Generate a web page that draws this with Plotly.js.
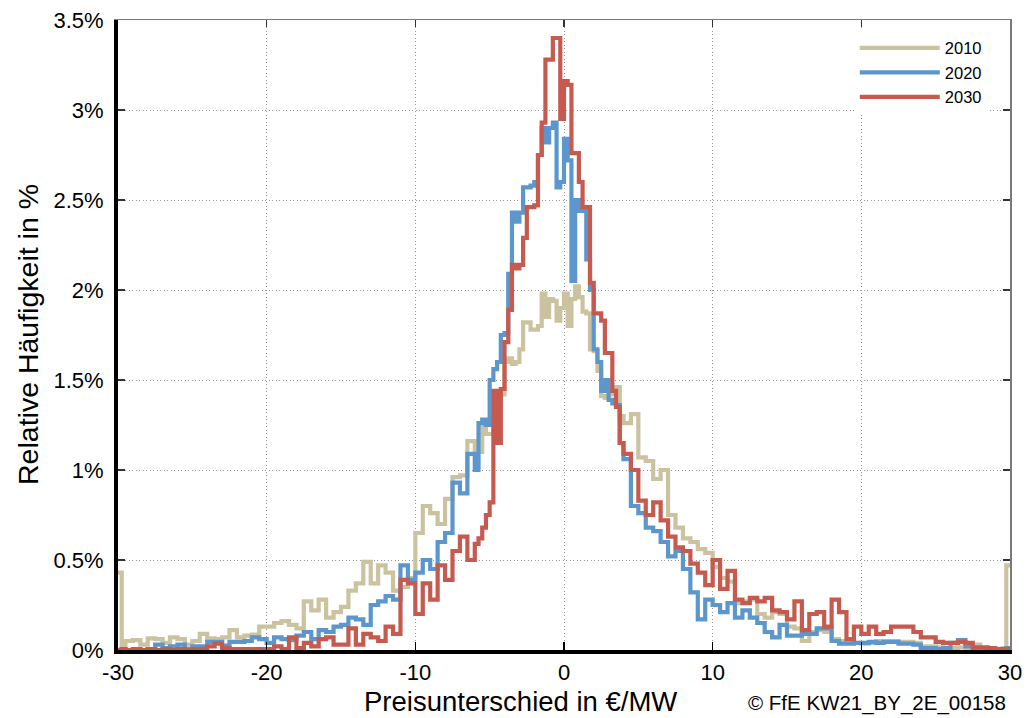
<!DOCTYPE html>
<html>
<head>
<meta charset="utf-8">
<script src="https://cdn.plot.ly/plotly-3.0.1.min.js"></script>
<style>
  html, body { margin: 0; padding: 0; background: #ffffff; }
  #chart { width: 1027px; height: 718px; }
</style>
</head>
<body>
<div id="chart"></div>
<script>
// Left edges of the histogram bins (€/MW)
const binEdges = [
  -30, -29.75, -29.5, -29, -28.5, -28, -27.5, -27, -26.5, -26, -25.5, -25, -24.5, -24, -23.5, -23,
  -22.5, -22, -21.5, -21, -20.5, -20, -19.5, -19, -18.5, -18, -17.5, -17, -16.5, -16, -15.5, -15,
  -14.5, -14, -13.5, -13, -12.5, -12, -11.5, -11, -10.5, -10, -9.5, -9, -8.5, -8, -7.5, -7, -6.5, -6,
  -5.75, -5.5, -5.25, -5, -4.75, -4.5, -4.25, -4, -3.75, -3.5, -3.25, -3, -2.75, -2.5, -2.25, -2,
  -1.75, -1.5, -1.25, -1, -0.75, -0.5, -0.25, 0, 0.25, 0.5, 0.75, 1, 1.25, 1.5, 1.75, 2, 2.25, 2.5,
  2.75, 3, 3.25, 3.5, 3.75,
  4, 4.5, 5, 5.5, 6, 6.5, 7, 7.5, 8, 8.5, 9, 9.5, 10, 10.5, 11, 11.5, 12, 12.5, 13, 13.5, 14, 14.5,
  15, 15.5, 16, 16.5, 17, 17.5, 18, 18.5, 19, 19.5, 20, 20.5, 21, 21.5, 22, 22.5, 23, 23.5, 24, 24.5,
  25, 25.5, 26, 26.5, 27, 27.5, 28, 28.5, 29, 29.5, 29.75, 30
];

// Relative frequency in %
const freq2010 = [
  0.43, 0.02, 0.05, 0.055, 0.03, 0.065, 0.06, 0.04, 0.07, 0.06, 0.03, 0.05, 0.09, 0.065, 0.06, 0.07,
  0.11, 0.07, 0.08, 0.085, 0.13, 0.13, 0.15, 0.16, 0.14, 0.12, 0.27, 0.22, 0.28, 0.18, 0.21, 0.24,
  0.33, 0.37, 0.49, 0.37, 0.47, 0.43, 0.33, 0.35, 0.4, 0.65, 0.8, 0.76, 0.7, 0.84, 0.96, 0.97, 1.16, 1.1,
  1.1, 1.24, 1.2, 1.2, 1.3, 1.38, 1.42, 1.6, 1.62, 1.59, 1.6, 1.67, 1.82, 1.82, 1.78, 1.78,
  1.8, 1.98, 1.85, 1.95, 1.94, 1.83, 1.9, 1.98, 1.8, 1.95, 2.02, 1.96, 1.88, 1.87, 1.67, 1.66, 1.55, 1.41,
  1.4, 1.42, 1.45, 1.46, 1.3,
  1.26, 1.31, 1.07, 1.05, 0.95, 1.0, 0.75, 0.68, 0.62, 0.6, 0.56, 0.54, 0.46, 0.4, 0.38, 0.26, 0.27, 0.28, 0.2, 0.18, 0.21, 0.2,
  0.13, 0.12, 0.05, 0.1, 0.11, 0.1, 0.06, 0.05, 0.04, 0.04, 0.035, 0.04, 0.05, 0.05, 0.05, 0.045, 0.045, 0.04, 0.02, 0.02,
  0.015, 0.01, 0.01, 0.015, 0.01, 0.03, 0.01, 0.01, 0.005, 0.01, 0.47, 0.47
];

const freq2020 = [
  0.0, 0.005, 0.0, 0.005, 0.0, 0.005, 0.03, 0.01, 0.02, 0.03, 0.005, 0.02, 0.02, 0.045, 0.045, 0.025,
  0.045, 0.045, 0.05, 0.07, 0.06, 0.04, 0.07, 0.06, 0.055, 0.08, 0.1, 0.06, 0.11, 0.1, 0.13, 0.14,
  0.18, 0.17, 0.14, 0.25, 0.27, 0.3, 0.28, 0.47, 0.39, 0.43, 0.5, 0.45, 0.6, 0.65, 0.93, 0.87, 1.09, 1.0,
  1.26, 1.28, 1.25, 1.5, 1.56, 1.6, 1.75, 1.76, 2.09, 2.43, 2.38, 2.43, 2.57, 2.57, 2.58, 2.6,
  2.75, 2.9, 2.82, 2.9, 2.93, 2.57, 2.6, 2.84, 2.72, 2.05, 2.5, 2.44, 2.44, 2.17, 2.0, 1.67, 1.6, 1.44,
  1.5, 1.39, 1.37, 1.36, 1.15,
  1.06, 0.8, 0.76, 0.68, 0.66, 0.6, 0.52, 0.55, 0.45, 0.32, 0.17, 0.28, 0.25, 0.21, 0.26, 0.18, 0.22, 0.18, 0.15, 0.1, 0.07, 0.14,
  0.08, 0.08, 0.09, 0.09, 0.12, 0.12, 0.05, 0.035, 0.035, 0.04, 0.04, 0.045, 0.04, 0.045, 0.045, 0.035, 0.035, 0.03, 0.01, 0.01,
  0.005, 0.01, 0.04, 0.055, 0.02, 0.005, 0.005, 0.005, 0.005, 0.005, 0.01, 0.01
];

const freq2030 = [
  0.0, 0.005, 0.0, 0.005, 0.0, 0.005, 0.0, 0.005, 0.0, 0.005, 0.0, 0.005, 0.005, 0.02, 0.035, 0.01,
  0.005, 0.005, 0.005, 0.005, 0.005, 0.005, 0.02, 0.005, 0.07, 0.01, 0.04, 0.02, 0.06, 0.07, 0.03, 0.03,
  0.12, 0.03, 0.09, 0.07, 0.05, 0.13, 0.09, 0.39, 0.37, 0.2, 0.37, 0.28, 0.47, 0.39, 0.55, 0.63, 0.5, 0.59,
  0.62, 0.68, 0.75, 0.82, 1.44, 1.15, 1.45, 1.71, 1.89, 2.14, 2.12, 2.14, 2.29, 2.46, 2.46, 2.47,
  2.75, 2.93, 3.28, 3.28, 3.4, 3.4, 2.95, 3.16, 3.14, 2.76, 2.76, 2.6, 2.46, 2.46, 2.04, 1.87, 1.87, 1.83,
  1.65, 1.65, 1.44, 1.35, 1.15,
  1.09, 1.0, 0.83, 0.75, 0.82, 0.72, 0.63, 0.57, 0.55, 0.48, 0.43, 0.36, 0.5, 0.34, 0.44, 0.28, 0.26, 0.29, 0.27, 0.29, 0.22, 0.21,
  0.17, 0.27, 0.11, 0.2, 0.21, 0.13, 0.28, 0.21, 0.06, 0.13, 0.09, 0.13, 0.09, 0.1, 0.13, 0.13, 0.13, 0.1, 0.07, 0.07,
  0.045, 0.04, 0.04, 0.045, 0.04, 0.015, 0.015, 0.01, 0.005, 0.005, 0.005, 0.005
];

const seriesNames = ['2010', '2020', '2030'];
const seriesColors = ['#CBC3A0', '#5B97CC', '#C75A4F'];
const seriesValues = [freq2010, freq2020, freq2030];

const xTickVals = [-30, -20, -10, 0, 10, 20, 30];
const xTickText = ['-30', '-20', '-10', '0', '10', '20', '30'];
const yTickVals = [0, 0.5, 1, 1.5, 2, 2.5, 3, 3.5];
const yTickText = ['0%', '0.5%', '1%', '1.5%', '2%', '2.5%', '3%', '3.5%'];

const traces = seriesNames.map((name, i) => ({
  type: 'scatter',
  mode: 'lines',
  name: name,
  x: binEdges,
  y: seriesValues[i],
  line: { shape: 'hv', color: seriesColors[i], width: 4.2 },
  hoverinfo: 'x+y+name'
}));

// empty trace to create the mirrored (top/right) frame axes
traces.push({ type: 'scatter', x: [], y: [], xaxis: 'x2', yaxis: 'y2', showlegend: false, hoverinfo: 'skip' });

const FONT = 'Liberation Sans, Arial, sans-serif';
const GRID_DASH = '1px,2.5px';

const layout = {
  width: 1027,
  height: 718,
  margin: { l: 118, r: 17, t: 20, b: 68 },
  paper_bgcolor: '#ffffff',
  plot_bgcolor: '#ffffff',
  font: { family: FONT, color: '#000000', size: 20 },
  showlegend: true,
  legend: {
    x: 0.826, y: 0.983, xanchor: 'left', yanchor: 'top',
    bgcolor: '#ffffff', borderwidth: 0,
    font: { family: FONT, size: 16.5, color: '#000000' },
    itemwidth: 80, tracegroupgap: 0
  },
  xaxis: {
    range: [-30, 30],
    tickvals: xTickVals,
    ticktext: xTickText,
    ticks: 'inside', ticklen: 8, tickwidth: 1.5, tickcolor: '#000000',
    showline: true, linecolor: '#000000', linewidth: 4,
    showgrid: true, gridcolor: '#999999', griddash: GRID_DASH, gridwidth: 1,
    zeroline: false,
    tickfont: { family: FONT, size: 22, color: '#000000' },
    fixedrange: true
  },
  yaxis: {
    range: [0, 3.5],
    tickvals: yTickVals,
    ticktext: yTickText,
    ticks: 'inside', ticklen: 7, tickwidth: 1.5, tickcolor: '#333333',
    showline: true, linecolor: '#000000', linewidth: 4,
    showgrid: true, gridcolor: '#999999', griddash: GRID_DASH, gridwidth: 1,
    zeroline: false,
    tickfont: { family: FONT, size: 22, color: '#000000' },
    ticklabelstandoff: 6,
    fixedrange: true
  },
  xaxis2: {
    overlaying: 'x', side: 'top', anchor: 'y2', range: [-30, 30], tickvals: xTickVals,
    ticks: 'inside', ticklen: 7, tickwidth: 1.5, tickcolor: '#333333',
    showticklabels: false, showgrid: false, zeroline: false,
    showline: true, linecolor: '#7a7a7a', linewidth: 1.5, fixedrange: true
  },
  yaxis2: {
    overlaying: 'y', side: 'right', anchor: 'x2', range: [0, 3.5], tickvals: yTickVals,
    ticks: 'inside', ticklen: 7, tickwidth: 1.5, tickcolor: '#333333',
    showticklabels: false, showgrid: false, zeroline: false,
    showline: true, linecolor: '#7a7a7a', linewidth: 1.5, fixedrange: true
  },
  annotations: [
    {
      text: 'Preisunterschied in €/MW',
      xref: 'paper', yref: 'paper', x: 0.4507, y: -0.082,
      xanchor: 'center', yanchor: 'middle', showarrow: false,
      font: { family: FONT, size: 27.5, color: '#000000' }
    },
    {
      text: '© FfE KW21_BY_2E_00158',
      xref: 'paper', yref: 'paper', x: 0.9978, y: -0.084,
      xanchor: 'right', yanchor: 'middle', showarrow: false,
      font: { family: FONT, size: 20.5, color: '#000000' }
    },
    {
      text: 'Relative Häufigkeit in %',
      xref: 'paper', yref: 'paper', x: -0.1009, y: 0.5016,
      xanchor: 'center', yanchor: 'middle', showarrow: false, textangle: -90,
      font: { family: FONT, size: 28.5, color: '#000000' }
    }
  ]
};

Plotly.newPlot('chart', traces, layout, { displayModeBar: false, staticPlot: true });
</script>
</body>
</html>
